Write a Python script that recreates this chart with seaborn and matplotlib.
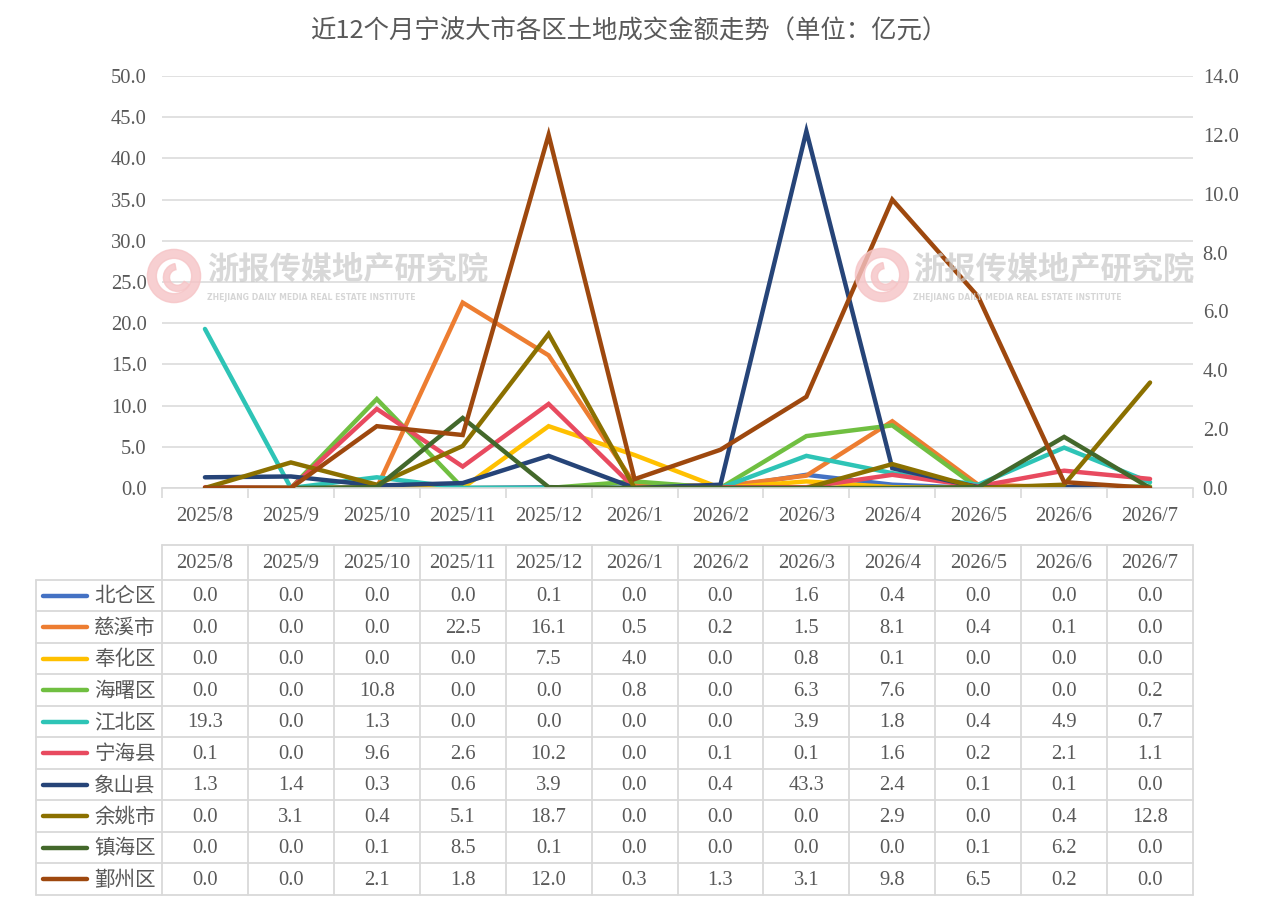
import numpy as np
import pandas as pd
import matplotlib
matplotlib.use("Agg")
import matplotlib.pyplot as plt
from matplotlib.patches import Wedge
import seaborn as sns

# ---------------- data ----------------
months = ["2025/8", "2025/9", "2025/10", "2025/11", "2025/12", "2026/1",
          "2026/2", "2026/3", "2026/4", "2026/5", "2026/6", "2026/7"]
districts = ["北仑区", "慈溪市", "奉化区", "海曙区", "江北区",
             "宁海县", "象山县", "余姚市", "镇海区", "鄞州区"]
beilun  = [0.0, 0.0, 0.0, 0.0, 0.1, 0.0, 0.0, 1.6, 0.4, 0.0, 0.0, 0.0]
cixi    = [0.0, 0.0, 0.0, 22.5, 16.1, 0.5, 0.2, 1.5, 8.1, 0.4, 0.1, 0.0]
fenghua = [0.0, 0.0, 0.0, 0.0, 7.5, 4.0, 0.0, 0.8, 0.1, 0.0, 0.0, 0.0]
haishu  = [0.0, 0.0, 10.8, 0.0, 0.0, 0.8, 0.0, 6.3, 7.6, 0.0, 0.0, 0.2]
jiangbei = [19.3, 0.0, 1.3, 0.0, 0.0, 0.0, 0.0, 3.9, 1.8, 0.4, 4.9, 0.7]
ninghai = [0.1, 0.0, 9.6, 2.6, 10.2, 0.0, 0.1, 0.1, 1.6, 0.2, 2.1, 1.1]
xiangshan = [1.3, 1.4, 0.3, 0.6, 3.9, 0.0, 0.4, 43.3, 2.4, 0.1, 0.1, 0.0]
yuyao   = [0.0, 3.1, 0.4, 5.1, 18.7, 0.0, 0.0, 0.0, 2.9, 0.0, 0.4, 12.8]
zhenhai = [0.0, 0.0, 0.1, 8.5, 0.1, 0.0, 0.0, 0.0, 0.0, 0.1, 6.2, 0.0]
yinzhou = [0.0, 0.0, 2.1, 1.8, 12.0, 0.3, 1.3, 3.1, 9.8, 6.5, 0.2, 0.0]
series = [beilun, cixi, fenghua, haishu, jiangbei, ninghai,
          xiangshan, yuyao, zhenhai, yinzhou]
colors = ["#4472C4", "#ED7D31", "#FFC000", "#70BF41", "#2EC4B6",
          "#E84A5F", "#264478", "#8B7000", "#43682B", "#9E480E"]
secondary = "鄞州区"
title = "近12个月宁波大市各区土地成交金额走势（单位：亿元）"
left_ticks = [0, 5, 10, 15, 20, 25, 30, 35, 40, 45, 50]
right_ticks = [0, 2, 4, 6, 8, 10, 12, 14]

# ---------------- style ----------------
sns.set_theme(style="white")
FONTS = ["Liberation Serif", "Noto Sans CJK SC", "DejaVu Sans"]
plt.rcParams["font.family"] = FONTS
TXT = "#595959"
GRID = "#d9d9d9"
FS = 14.8
CJK = ["Noto Sans CJK SC", "DejaVu Sans"]

W, H = 1267, 922
fig = plt.figure(figsize=(W / 100, H / 100), dpi=100)
fig.patch.set_facecolor("white")

pl, pr, pt, pb = 162, 1193, 76, 488
ax = fig.add_axes([pl / W, 1 - pb / H, (pr - pl) / W, (pb - pt) / H])
ax2 = ax.twinx()

df = pd.DataFrame({d: s for d, s in zip(districts, series)})
df["idx"] = np.arange(len(months))
long = df.melt(id_vars="idx", var_name="district", value_name="value")
palette = dict(zip(districts, colors))
prim = [d for d in districts if d != secondary]

sns.lineplot(data=long[long.district != secondary], x="idx", y="value",
             hue="district", hue_order=prim, palette=palette, ax=ax,
             linewidth=3.2, legend=False, solid_capstyle="round",
             solid_joinstyle="miter")
sns.lineplot(data=long[long.district == secondary], x="idx", y="value",
             color=palette[secondary], ax=ax2, linewidth=3.2, legend=False,
             solid_capstyle="round", solid_joinstyle="miter")

for a, lim, ticks in ((ax, 50, left_ticks), (ax2, 14, right_ticks)):
    a.set_ylim(0, lim)
    a.set_xlim(-0.5, len(months) - 0.5)
    a.set_yticks(ticks)
    a.set_yticklabels([f"{t:.1f}" for t in ticks], color=TXT, fontsize=FS)
    a.set_xlabel("")
    a.set_ylabel("")
    for s in a.spines.values():
        s.set_visible(False)

ax.spines["bottom"].set_visible(True)
ax.spines["bottom"].set_color(GRID)
ax.spines["bottom"].set_linewidth(1.2)
ax.grid(axis="y", color=GRID, linewidth=1.1)
ax.set_axisbelow(True)
ax.tick_params(axis="y", length=0, pad=11)
ax2.tick_params(axis="y", length=0, pad=7)
ax2.grid(False)

ax.set_xticks(np.arange(len(months)))
ax.set_xticklabels(months, color=TXT, fontsize=FS)
ax.set_xticks(np.arange(len(months) + 1) - 0.5, minor=True)
ax.tick_params(axis="x", which="major", length=0, pad=14)
ax.tick_params(axis="x", which="minor", length=7, width=1.2, color=GRID,
               bottom=True, direction="out")
ax2.tick_params(axis="x", which="both", length=0, labelbottom=False)

fig.text(629 / W, 1 - 32 / H, title, ha="center", va="center",
         fontsize=18.3, color=TXT, family=CJK)

# ---------------- watermark ----------------
def watermark(lx, ly, tx):
    axl = fig.add_axes([(lx - 28) / W, 1 - (ly + 28) / H, 56 / W, 56 / H])
    axl.set_xlim(-1, 1)
    axl.set_ylim(-1, 1)
    axl.set_aspect("equal")
    axl.axis("off")
    axl.add_patch(Wedge((0, 0), 0.95, 0, 360, width=0.32, color="#f6c4c6", alpha=0.8))
    axl.add_patch(Wedge((0.12, -0.05), 0.5, 100, 330, width=0.22, color="#f6c4c6", alpha=0.8))
    fig.text(tx / W, 1 - 270 / H, "浙报传媒地产研究院", ha="left", va="center",
             fontsize=22.5, fontweight="bold", color="#cccccc", alpha=0.75,
             family=CJK)
    fig.text(tx / W, 1 - 297 / H, "ZHEJIANG DAILY MEDIA REAL ESTATE INSTITUTE",
             ha="left", va="center", fontsize=5.6, fontweight="bold",
             color="#cccccc", alpha=0.8, family=["DejaVu Sans"])

watermark(174, 276, 207)
watermark(882, 275, 913)

# ---------------- data table ----------------
tl, tr, tt, tb = 36, 1193, 545, 895
cw = (tr - pl) / len(months)
axt = fig.add_axes([tl / W, 1 - tb / H, (tr - tl) / W, (tb - tt) / H])
left = -0.5 - (pl - tl) / cw
hh = 1.11
nrow = len(districts)
axt.set_xlim(left, len(months) - 0.5)
axt.set_ylim(hh + nrow, 0)
axt.axis("off")

lw_t = 1.3
axt.plot([-0.5, len(months) - 0.5], [0, 0], color=GRID, lw=lw_t, clip_on=False)
for i in range(nrow + 1):
    axt.plot([left, len(months) - 0.5], [hh + i, hh + i], color=GRID, lw=lw_t,
             clip_on=False)
for j in range(len(months) + 1):
    axt.plot([j - 0.5, j - 0.5], [0, hh + nrow], color=GRID, lw=lw_t, clip_on=False)
axt.plot([left, left], [hh, hh + nrow], color=GRID, lw=lw_t, clip_on=False)

for j, m in enumerate(months):
    axt.text(j, hh / 2 + 0.03, m, ha="center", va="center", fontsize=FS, color=TXT)

for i, (d, s, c) in enumerate(zip(districts, series, colors)):
    yc = hh + i + 0.5
    axt.plot([left + 7 / cw, left + 51 / cw], [yc, yc], color=c, lw=3.2,
             solid_capstyle="round", clip_on=False)
    axt.text(left + 58 / cw, yc + 0.02, d, ha="left", va="center", fontsize=FS,
             color=TXT, family=CJK)
    for j, v in enumerate(s):
        axt.text(j, yc + 0.03, f"{v:.1f}", ha="center", va="center",
                 fontsize=FS, color=TXT)

fig.savefig("out.png", dpi=100, facecolor="white")
